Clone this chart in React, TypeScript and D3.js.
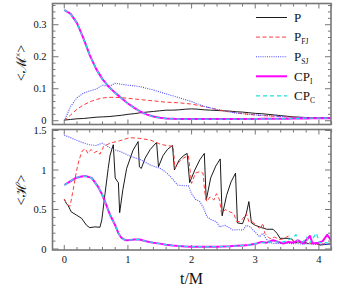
import * as d3 from 'd3';

// upper panel: <M^x> sampled every 0.1 in t/M
const tTop = [0, 0.1, 0.2, 0.3, 0.4, 0.5, 0.6, 0.7, 0.8, 0.9, 1.0, 1.1, 1.2, 1.3, 1.4, 1.5, 1.6, 1.7, 1.8, 1.9, 2.0,
  2.1, 2.2, 2.3, 2.4, 2.5, 2.6, 2.7, 2.8, 2.9, 3.0, 3.1, 3.2, 3.3, 3.4, 3.5, 3.6, 3.7, 3.8, 3.9, 4.0, 4.1, 4.2];
const pTop = [0.002, 0.004, 0.006, 0.007, 0.009, 0.011, 0.012, 0.013, 0.015, 0.017, 0.020, 0.022, 0.025, 0.027, 0.029,
  0.031, 0.033, 0.033, 0.034, 0.036, 0.037, 0.036, 0.034, 0.033, 0.032, 0.031, 0.030, 0.028, 0.027, 0.025, 0.023,
  0.022, 0.020, 0.018, 0.016, 0.014, 0.012, 0.011, 0.010, 0.010, 0.009, 0.009, 0.008];
const pfjTop = [0, 0.018, 0.036, 0.049, 0.059, 0.066, 0.071, 0.073, 0.073, 0.072, 0.070, 0.068, 0.066, 0.064, 0.062,
  0.060, 0.058, 0.057, 0.056, 0.054, 0.052, 0.048, 0.044, 0.040, 0.035, 0.031, 0.028, 0.025, 0.022, 0.020, 0.018,
  0.016, 0.015, 0.014, 0.013, 0.012, 0.011, 0.010, 0.010, 0.009, 0.009, 0.008, 0.008];
const psjTop = [0, 0.045, 0.072, 0.086, 0.093, 0.099, 0.111, 0.107, 0.117, 0.114, 0.111, 0.109, 0.106, 0.101, 0.096,
  0.090, 0.084, 0.078, 0.072, 0.066, 0.060, 0.052, 0.045, 0.040, 0.035, 0.031, 0.027, 0.024, 0.022, 0.020, 0.018,
  0.017, 0.016, 0.015, 0.013, 0.012, 0.011, 0.010, 0.010, 0.009, 0.009, 0.009, 0.008];
const cpiTop = [0.346, 0.334, 0.305, 0.258, 0.205, 0.162, 0.130, 0.106, 0.087, 0.070, 0.054, 0.040, 0.028, 0.019, 0.013,
  0.009, 0.007, 0.006, 0.005, 0.005, 0.005, 0.005, 0.005, 0.005, 0.005, 0.005, 0.005, 0.005, 0.005, 0.005, 0.005,
  0.006, 0.006, 0.006, 0.006, 0.006, 0.007, 0.007, 0.007, 0.008, 0.008, 0.008, 0.008];
const cpcTop = [0.346, 0.334, 0.305, 0.258, 0.205, 0.162, 0.130, 0.106, 0.087, 0.070, 0.054, 0.040, 0.028, 0.019, 0.013,
  0.009, 0.007, 0.006, 0.005, 0.005, 0.005, 0.005, 0.005, 0.005, 0.005, 0.005, 0.005, 0.005, 0.005, 0.005, 0.005,
  0.006, 0.006, 0.006, 0.006, 0.007, 0.007, 0.007, 0.008, 0.008, 0.008, 0.008, 0.009];

// lower panel: <H>, each series with its own samples
const tP = [0, 0.03, 0.06, 0.11, 0.19, 0.27, 0.35, 0.40, 0.48, 0.56, 0.59, 0.64, 0.69, 0.72, 0.77, 0.80, 0.83, 0.85,
  0.87, 0.92, 0.98, 1.08, 1.16, 1.18, 1.21, 1.27, 1.35, 1.45, 1.48, 1.55, 1.62, 1.70, 1.73, 1.80, 1.87, 1.93, 1.97,
  2.05, 2.13, 2.20, 2.23, 2.30, 2.38, 2.45, 2.48, 2.55, 2.62, 2.69, 2.72, 2.80, 2.86, 2.90, 2.94, 3.00, 3.10, 3.18,
  3.28, 3.34, 3.39, 3.52, 3.57, 3.62, 3.75, 3.83, 3.96, 4.02, 4.20];
const vP = [0.63, 0.58, 0.55, 0.47, 0.43, 0.39, 0.30, 0.27, 0.28, 0.275, 0.37, 0.70, 1.02, 1.19, 1.32, 0.90, 0.86,
  0.84, 0.46, 0.75, 1.02, 1.25, 1.36, 1.04, 1.02, 1.15, 1.26, 1.35, 1.04, 1.18, 1.26, 1.31, 1.00, 1.12, 1.18, 1.21,
  0.84, 1.00, 1.13, 1.21, 0.62, 0.90, 1.05, 1.14, 0.42, 0.68, 0.85, 0.96, 0.33, 0.32, 0.45, 0.60, 0.33, 0.30, 0.27,
  0.25, 0.25, 0.20, 0.135, 0.135, 0.13, 0.08, 0.09, 0.07, 0.07, 0.05, 0.065];
const tFJ = [0, 0.04, 0.09, 0.14, 0.19, 0.23, 0.28, 0.33, 0.37, 0.42, 0.47, 0.52, 0.56, 0.62, 0.72, 0.87, 1.03, 1.18,
  1.35, 1.50, 1.60, 1.71, 1.74, 1.80, 1.87, 1.95, 2.00, 2.06, 2.13, 2.18, 2.21, 2.24, 2.29, 2.35, 2.39, 2.44, 2.47,
  2.53, 2.60, 2.66, 2.71, 2.76, 2.81, 2.86, 2.90, 2.95, 3.02, 3.08, 3.12, 3.15, 3.23, 3.30, 3.39, 3.45, 3.52, 3.57,
  3.65, 3.75, 3.90, 4.00, 4.20];
const vFJ = [0.63, 0.57, 0.54, 0.75, 0.98, 1.12, 1.24, 1.27, 1.21, 1.26, 1.22, 1.24, 1.20, 1.30, 1.34, 1.37, 1.41, 1.40,
  1.38, 1.33, 1.31, 1.30, 1.02, 1.10, 1.15, 1.18, 0.83, 0.96, 0.98, 0.96, 0.70, 0.60, 0.66, 0.62, 0.70, 0.62, 0.45,
  0.50, 0.47, 0.45, 0.345, 0.35, 0.39, 0.45, 0.345, 0.345, 0.30, 0.25, 0.325, 0.20, 0.13, 0.15, 0.12, 0.13, 0.165,
  0.12, 0.09, 0.07, 0.07, 0.06, 0.075];
const tSJ = [0, 0.10, 0.18, 0.28, 0.39, 0.50, 0.60, 0.74, 0.89, 1.05, 1.20, 1.36, 1.51, 1.60, 1.67, 1.78, 1.88, 1.95,
  2.00, 2.06, 2.13, 2.18, 2.24, 2.31, 2.39, 2.44, 2.52, 2.57, 2.65, 2.73, 2.81, 2.86, 2.92, 2.99, 3.07, 3.12, 3.15,
  3.22, 3.30, 3.50, 3.70, 4.00, 4.20];
const vSJ = [1.44, 1.41, 1.38, 1.35, 1.32, 1.31, 1.34, 1.27, 1.23, 1.17, 1.13, 1.06, 1.02, 0.97, 0.915, 0.81, 0.80,
  0.80, 0.70, 0.63, 0.60, 0.535, 0.41, 0.37, 0.345, 0.28, 0.30, 0.28, 0.24, 0.245, 0.24, 0.30, 0.28, 0.22, 0.155,
  0.20, 0.155, 0.08, 0.07, 0.07, 0.065, 0.06, 0.06];
const tCPI = [0, 0.10, 0.17, 0.25, 0.33, 0.43, 0.53, 0.60, 0.64, 0.72, 0.80, 0.85, 0.90, 0.95, 1.00, 1.10, 1.18, 1.30,
  1.40, 1.50, 1.60, 1.70, 1.80, 1.90, 2.00, 2.20, 2.40, 2.60, 2.70, 2.80, 2.90, 3.02, 3.10, 3.18, 3.28, 3.36, 3.44,
  3.52, 3.60, 3.67, 3.75, 3.86, 3.90, 4.00, 4.06, 4.13, 4.20];
const vCPI = [0.81, 0.86, 0.895, 0.915, 0.924, 0.90, 0.79, 0.68, 0.60, 0.43, 0.30, 0.20, 0.14, 0.115, 0.11, 0.12, 0.12,
  0.095, 0.08, 0.068, 0.055, 0.045, 0.038, 0.033, 0.03, 0.028, 0.03, 0.035, 0.04, 0.045, 0.05, 0.07, 0.09, 0.08, 0.11,
  0.09, 0.07, 0.09, 0.08, 0.11, 0.07, 0.165, 0.07, 0.08, 0.10, 0.18, 0.10];
const tCPC = [0, 0.10, 0.17, 0.25, 0.33, 0.43, 0.53, 0.60, 0.64, 0.72, 0.80, 0.85, 0.90, 0.95, 1.00, 1.10, 1.18, 1.30,
  1.40, 1.50, 1.60, 1.70, 1.80, 1.90, 2.00, 2.20, 2.40, 2.60, 2.70, 2.80, 2.90, 3.02, 3.18, 3.30, 3.45, 3.57, 3.64,
  3.67, 3.75, 3.81, 3.85, 3.96, 4.01, 4.10, 4.20];
const vCPC = [0.81, 0.86, 0.895, 0.915, 0.924, 0.90, 0.79, 0.68, 0.60, 0.43, 0.30, 0.20, 0.14, 0.115, 0.11, 0.12, 0.12,
  0.095, 0.08, 0.068, 0.055, 0.045, 0.038, 0.033, 0.03, 0.028, 0.03, 0.035, 0.04, 0.045, 0.05, 0.07, 0.085, 0.09, 0.09,
  0.135, 0.18, 0.08, 0.09, 0.15, 0.07, 0.20, 0.08, 0.08, 0.07];

const xTicks = [0, 1, 2, 3, 4];
const xTickLabels = ['0', '1', '2', '3', '4'];
const yTopTicks = [0, 0.1, 0.2, 0.3];
const yTopLabels = ['0', '0.1', '0.2', '0.3'];
const yBotTicks = [0, 0.5, 1, 1.5];
const yBotLabels = ['0', '0.5', '1', '1.5'];

const seriesNames = ['P', 'FJ', 'SJ', 'CPI', 'CPC'];

const W = 339, H = 293;
const left = 52.5, right = 331;
const top1 = 3.5, bot1 = 124.5;
const top2 = 129.5, bot2 = 250;
const frame = '#777';
const font = "'Liberation Serif', 'Times New Roman', serif";

const styles: Record<string, { color: string; width: number; dash?: string }> = {
  P: { color: '#000', width: 0.9 },
  FJ: { color: '#ff3b3b', width: 1, dash: '4,2.5' },
  SJ: { color: '#4b4bff', width: 1.1, dash: '1,1.2' },
  CPI: { color: '#ff00ff', width: 2 },
  CPC: { color: '#22e0e0', width: 1.3, dash: '4,3' },
};

export default function App() {
  const x = d3.scaleLinear().domain([-0.185, 4.19]).range([left, right]);
  const y1 = d3.scaleLinear().domain([-0.0118, 0.3663]).range([bot1, top1]);
  const y2 = d3.scaleLinear().domain([-0.0127, 1.5127]).range([bot2, top2]);

  const mk = (ys: d3.ScaleLinear<number, number>, ts: number[], vs: number[]) =>
    d3.line<number>().x((_, i) => x(ts[i])).y((v) => ys(v))(vs) || '';

  const topPaths: Record<string, string> = {
    P: mk(y1, tTop, pTop), FJ: mk(y1, tTop, pfjTop), SJ: mk(y1, tTop, psjTop),
    CPI: mk(y1, tTop, cpiTop), CPC: mk(y1, tTop, cpcTop),
  };
  const botPaths: Record<string, string> = {
    P: mk(y2, tP, vP), FJ: mk(y2, tFJ, vFJ), SJ: mk(y2, tSJ, vSJ),
    CPI: mk(y2, tCPI, vCPI), CPC: mk(y2, tCPC, vCPC),
  };

  const xMinor = d3.range(0, 4.21, 0.2);
  const yTopMinor = d3.range(0, 0.361, 0.02);
  const yBotMinor = d3.range(0, 1.51, 0.1);
  const isMajor = (v: number, step: number) => Math.abs(v / step - Math.round(v / step)) < 1e-6;

  const panelTicks = (ys: d3.ScaleLinear<number, number>, yMinor: number[], yStep: number, t: number, b: number) => (
    <g stroke={frame} strokeWidth={1}>
      {xMinor.map((v, i) => {
        const len = isMajor(v, 1) ? 5 : 3;
        return (
          <g key={'x' + i}>
            <line x1={x(v)} x2={x(v)} y1={b} y2={b - len} />
            <line x1={x(v)} x2={x(v)} y1={t} y2={t + len} />
          </g>
        );
      })}
      {yMinor.map((v, i) => {
        const len = isMajor(v, yStep) ? 6 : 3;
        return (
          <g key={'y' + i}>
            <line x1={left} x2={left + len} y1={ys(v)} y2={ys(v)} />
            <line x1={right} x2={right - len} y1={ys(v)} y2={ys(v)} />
          </g>
        );
      })}
    </g>
  );

  const legendRows = [
    { key: 'P', main: 'P', sub: '' },
    { key: 'FJ', main: 'P', sub: 'FJ' },
    { key: 'SJ', main: 'P', sub: 'SJ' },
    { key: 'CPI', main: 'CP', sub: 'I' },
    { key: 'CPC', main: 'CP', sub: 'C' },
  ];

  return (
    <svg width={W} height={H} style={{ position: 'absolute', left: 0, top: 0, background: '#fff' }} fontFamily={font}>
      <defs>
        <clipPath id="c1"><rect x={left} y={top1} width={right - left} height={bot1 - top1} /></clipPath>
        <clipPath id="c2"><rect x={left} y={top2} width={right - left} height={bot2 - top2} /></clipPath>
      </defs>

      <g clipPath="url(#c1)" fill="none">
        {seriesNames.map((k) => (
          <path key={k} d={topPaths[k]} stroke={styles[k].color} strokeWidth={styles[k].width}
            strokeDasharray={styles[k].dash} strokeLinejoin="round" />
        ))}
      </g>
      <g clipPath="url(#c2)" fill="none">
        {seriesNames.map((k) => (
          <path key={k} d={botPaths[k]} stroke={styles[k].color} strokeWidth={styles[k].width}
            strokeDasharray={styles[k].dash} strokeLinejoin="round" />
        ))}
      </g>

      {panelTicks(y1, yTopMinor, 0.1, top1, bot1)}
      {panelTicks(y2, yBotMinor, 0.5, top2, bot2)}
      <rect x={left} y={top1} width={right - left} height={bot1 - top1} fill="none" stroke={frame} strokeWidth={1.6} />
      <rect x={left} y={top2} width={right - left} height={bot2 - top2} fill="none" stroke={frame} strokeWidth={1.6} />

      <g fontSize={10.5} fill="#111" textAnchor="end">
        {yTopTicks.map((v, i) => (
          <text key={i} x={46.5} y={y1(v) + 3.7}>{yTopLabels[i]}</text>
        ))}
        {yBotTicks.map((v, i) => (
          <text key={i} x={46.5} y={y2(v) + 3.7}>{yBotLabels[i]}</text>
        ))}
      </g>
      <g fontSize={10.5} fill="#111" textAnchor="middle">
        {xTicks.map((v, i) => (
          <text key={i} x={x(v)} y={262.5}>{xTickLabels[i]}</text>
        ))}
      </g>

      <text x={191.5} y={284} fontSize={16} textAnchor="middle" fill="#111">t/M</text>
      <text transform="translate(25.5,63) rotate(-90)" fontSize={14} textAnchor="middle" fill="#111">
        {'<ℳ'}<tspan fontSize={8} dy={-5}>×</tspan><tspan dy={5}>{'>'}</tspan>
      </text>
      <text transform="translate(25.5,190) rotate(-90)" fontSize={14} textAnchor="middle" fill="#111">
        {'<ℋ>'}
      </text>

      <g>
        {legendRows.map((r, i) => {
          const base = 21.7 + i * 19.6;
          const s = styles[r.key];
          return (
            <g key={r.key}>
              <line x1={256} x2={287} y1={base - 4.2} y2={base - 4.2} stroke={s.color}
                strokeWidth={s.width} strokeDasharray={s.dash} />
              <text x={294} y={base} fontSize={13} fill="#111">
                {r.main}
                {r.sub && <tspan fontSize={7.5} dy={3}>{r.sub}</tspan>}
              </text>
            </g>
          );
        })}
      </g>
    </svg>
  );
}
